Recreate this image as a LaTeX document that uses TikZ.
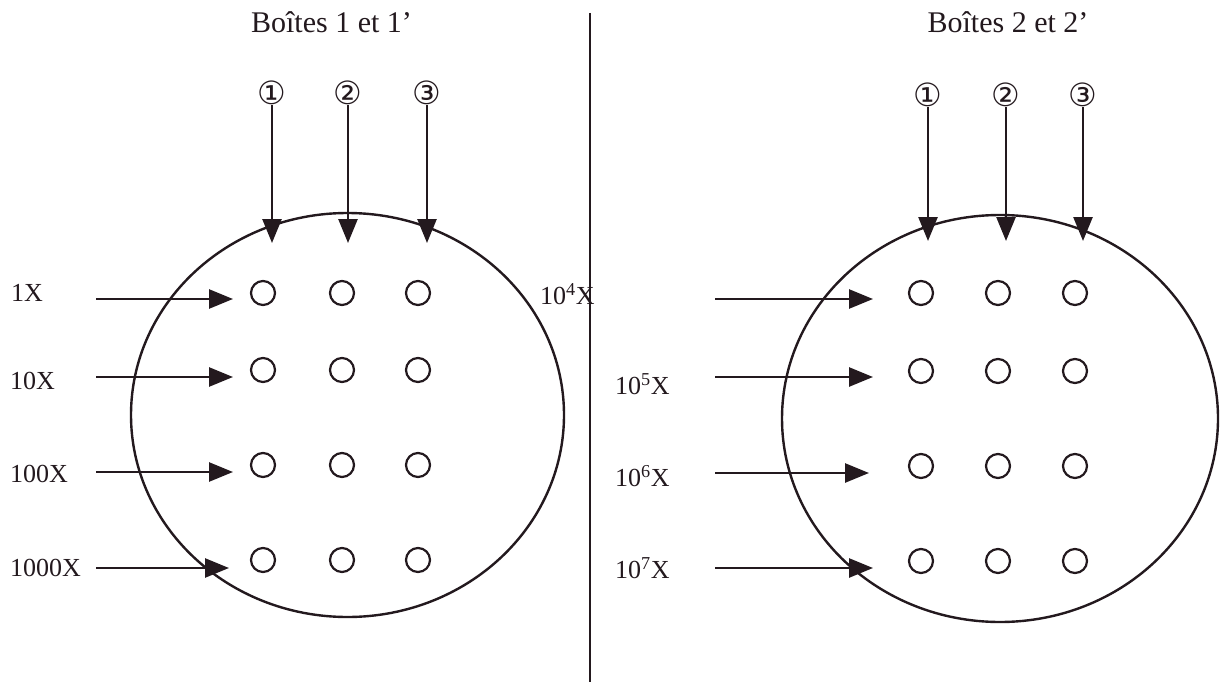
\documentclass[tikz,border=0pt]{standalone}
\usepackage{fontspec}
\setmainfont{Liberation Serif}
\newfontfamily\symfont{DejaVu Sans}
\usetikzlibrary{arrows.meta,shapes.geometric}
\definecolor{ink}{RGB}{35,25,30}
\begin{document}
\begin{tikzpicture}[x=1pt,y=-1pt,
  arr/.style={draw=ink,line width=2.6pt,-{Triangle[length=24pt,width=19pt]}},
  dot/.style={circle,draw=ink,line width=2.2pt,minimum size=24pt,inner sep=0pt},
  disc/.style={ellipse,draw=ink,line width=2.4pt,inner sep=0pt},
  title/.style={text=ink,font=\fontsize{30}{32}\selectfont,anchor=base,inner sep=0pt},
  lab/.style={text=ink,font=\fontsize{26}{28}\selectfont,anchor=west,inner sep=0pt},
  num/.style={text=ink,font=\symfont\fontsize{32}{34}\selectfont,inner sep=0pt}]
\useasboundingbox[fill=white] (0,0) rectangle (1223,682);

% titles
\node[title] (t1) at (331.5,33) {Boîtes 1 et 1’};
\node[title] (t2) at (1008,33) {Boîtes 2 et 2’};

% divider
\coordinate (dtop) at (590,13);
\coordinate (dbot) at (590,682);
\draw[draw=ink,line width=2.4pt] (dtop) -- (dbot);

% big circles
\node[disc,minimum width=433pt,minimum height=404pt] (b1) at (347.5,415) {};
\node[disc,minimum width=436pt,minimum height=407pt] (b2) at (1000,418.5) {};

% circled numbers left
\node[num] (l1) at (272,93) {①};
\node[num] (l2) at (348,93) {②};
\node[num] (l3) at (427,93) {③};
\coordinate (lt1) at (272,243);
\coordinate (lt2) at (348,243);
\coordinate (lt3) at (427,243);
\draw[arr] (l1.south) -- (lt1);
\draw[arr] (l2.south) -- (lt2);
\draw[arr] (l3.south) -- (lt3);

% circled numbers right
\node[num] (r1) at (928,95) {①};
\node[num] (r2) at (1006,95) {②};
\node[num] (r3) at (1083,95) {③};
\coordinate (rt1) at (928,241);
\coordinate (rt2) at (1006,241);
\coordinate (rt3) at (1083,241);
\draw[arr] (r1.south) -- (rt1);
\draw[arr] (r2.south) -- (rt2);
\draw[arr] (r3.south) -- (rt3);

% dots left
\foreach \y [count=\i] in {293,370,465,560}{
  \node[dot] (la\i) at (263,\y) {};
  \node[dot] (lb\i) at (342,\y) {};
  \node[dot] (lc\i) at (418,\y) {};
}
% dots right
\foreach \y [count=\i] in {293,371,466,561}{
  \node[dot] (ra\i) at (921,\y) {};
  \node[dot] (rb\i) at (998,\y) {};
  \node[dot] (rc\i) at (1075,\y) {};
}

% left labels and arrows
\node[lab] (x1) at (11,293) {1X};
\node[lab] (x2) at (10,381) {10X};
\node[lab] (x3) at (10,474) {100X};
\node[lab] (x4) at (10,568) {1000X};
\coordinate (ls1) at (96,299);  \coordinate (le1) at (233,299);
\coordinate (ls2) at (96,377);  \coordinate (le2) at (233,377);
\coordinate (ls3) at (96,472);  \coordinate (le3) at (233,472);
\coordinate (ls4) at (96,568);  \coordinate (le4) at (229,568);
\draw[arr] (ls1) -- (le1);
\draw[arr] (ls2) -- (le2);
\draw[arr] (ls3) -- (le3);
\draw[arr] (ls4) -- (le4);

% right labels and arrows
\node[lab] (y1) at (540,294) {10\textsuperscript{4}X};
\node[lab] (y2) at (615,384) {10\textsuperscript{5}X};
\node[lab] (y3) at (615,476) {10\textsuperscript{6}X};
\node[lab] (y4) at (615,568) {10\textsuperscript{7}X};
\coordinate (rs1) at (715,299);  \coordinate (re1) at (873,299);
\coordinate (rs2) at (715,377);  \coordinate (re2) at (873,377);
\coordinate (rs3) at (715,473);  \coordinate (re3) at (869,473);
\coordinate (rs4) at (715,568);  \coordinate (re4) at (873,568);
\draw[arr] (rs1) -- (re1);
\draw[arr] (rs2) -- (re2);
\draw[arr] (rs3) -- (re3);
\draw[arr] (rs4) -- (re4);
\end{tikzpicture}
\end{document}
